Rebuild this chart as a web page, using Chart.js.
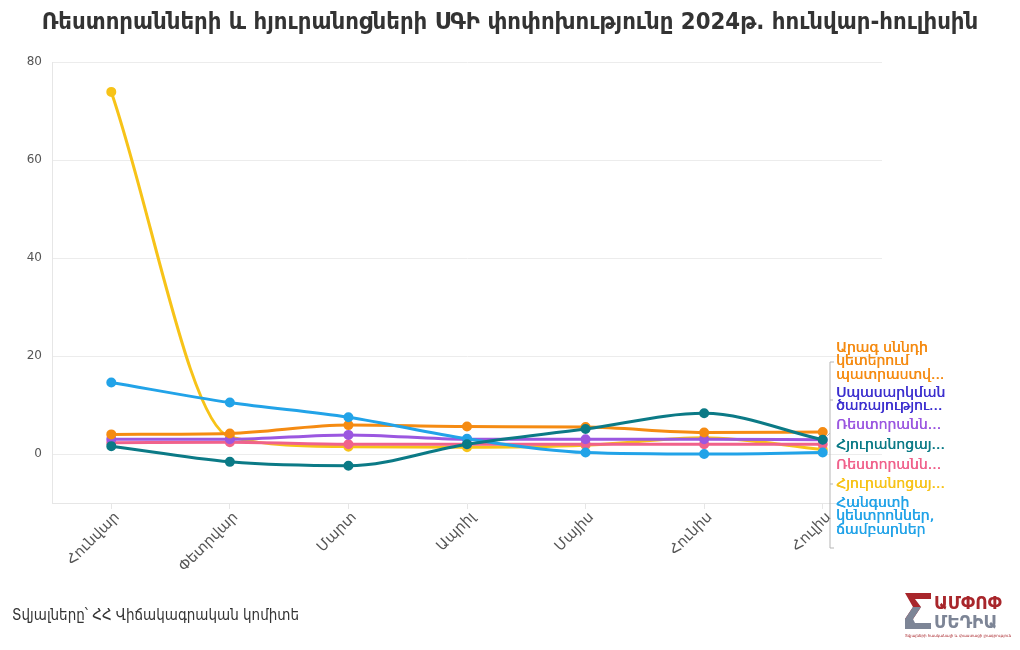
<!DOCTYPE html>
<html><head><meta charset="utf-8">
<script src="https://cdn.jsdelivr.net/npm/chart.js@4"></script>
<style>
html,body{margin:0;padding:0;background:#fff;width:1020px;height:650px;overflow:hidden;font-family:"DejaVu Sans","Noto Sans",sans-serif;}
#wrap{position:absolute;left:0;top:0;width:1020px;height:650px;}
#title{position:absolute;left:0;top:7px;width:1020px;text-align:center;font-family:"DejaVu Sans Condensed","DejaVu Sans",sans-serif;font-weight:bold;font-size:23.7px;color:#333;white-space:nowrap;}
#source{position:absolute;left:12px;top:606px;font-size:15px;color:#333;font-family:"DejaVu Sans Condensed","DejaVu Sans",sans-serif;}
#logo{position:absolute;left:903px;top:591px;width:110px;height:50px;}
</style></head>
<body>
<div id="wrap"><canvas id="c" width="1020" height="650"></canvas></div>
<div id="title">Ռեստորանների և հյուրանոցների ՍԳԻ փոփոխությունը 2024թ. հունվար-հուլիսին</div>
<div id="source">Տվյալները՝ ՀՀ Վիճակագրական կոմիտե</div>
<div id="logo">
<svg width="110" height="50" viewBox="0 0 110 50">
<polygon points="2,2 28,2 28,8 12,8 18,16 10,16" fill="#a8262b"/>
<polygon points="18,16 10,16 2,28 10,28" fill="#a8262b"/>
<polygon points="10,16 18,16 10,28 2,28" fill="#7d8596"/>
<polygon points="2,28 10,28 12,32 28,32 28,38 2,38" fill="#7d8596"/>
<text x="31" y="18" font-family="DejaVu Sans" font-weight="bold" font-size="17" fill="#a8262b">ԱՄՓՈՓ</text>
<text x="31" y="37" font-family="DejaVu Sans" font-weight="bold" font-size="17" fill="#7d8596">ՄԵԴԻԱ</text>
<text x="2" y="46" font-family="DejaVu Sans" font-size="4" fill="#a8262b">Տվյալների հասկանալի և փաստացի լրագրություն</text>
</svg>
</div>
<script>
const categories = ["Հունվար","Փետրվար","Մարտ","Ապրիլ","Մայիս","Հունիս","Հուլիս"];
const yTicks = [0,20,40,60,80];

const fastFood   = [4.0, 4.2, 5.9, 5.6, 5.5, 4.4, 4.5];
const services   = [null, null, null, null, null, null, null];
const restPurple = [3.0, 3.0, 3.9, 3.0, 3.0, 3.0, 2.9];
const hotelTeal  = [1.6, -1.6, -2.4, 2.0, 5.1, 8.3, 2.9];
const restPink   = [2.3, 2.4, 2.0, 2.0, 2.0, 2.0, 2.0];
const hotelYellow= [73.9, 3.5, 1.5, 1.4, 1.8, 3.3, 0.9];
const camps      = [14.6, 10.5, 7.5, 3.1, 0.3, 0.0, 0.3];

const labelLines = [
  ["Արագ սննդի","կետերում","պատրաստվ..."],
  ["Սպասարկման","ծառայությու..."],
  ["Ռեստորանն..."],
  ["Հյուրանոցայ..."],
  ["Ռեստորանն..."],
  ["Հյուրանոցայ..."],
  ["Հանգստի","կենտրոններ,","ճամբարներ"]
];
const colors = ["#f58b12","#3c2fcf","#9b57e0","#0b7a86","#f0628c","#f7c318","#22a3e8"];
const seriesData = [fastFood, services, restPurple, hotelTeal, restPink, hotelYellow, camps];
const labelY = [348, 393, 425, 445, 465, 484, 503];

const endLabels = {
  id:'endLabels',
  afterDraw(chart){
    const ctx = chart.ctx;
    const area = chart.chartArea;
    ctx.save();
    ctx.strokeStyle = '#b5b5b5';
    ctx.lineWidth = 1;
    const bx = area.right - 52;
    ctx.beginPath();
    ctx.moveTo(bx+4, 362); ctx.lineTo(bx, 362); ctx.lineTo(bx, 548); ctx.lineTo(bx+4, 548);
    ctx.moveTo(bx, 400); ctx.lineTo(bx+3, 400);
    ctx.moveTo(bx, 433); ctx.lineTo(bx-4, 437);
    ctx.moveTo(bx, 484); ctx.lineTo(bx+3, 484);
    ctx.stroke();
    ctx.font = '14px "DejaVu Sans","Noto Sans",sans-serif';
    ctx.textBaseline = 'middle';
    ctx.textAlign = 'left';
    labelLines.forEach((lines, i) => {
      ctx.fillStyle = colors[i];
      lines.forEach((t, j) => {
        ctx.fillText(t, area.right - 46, labelY[i] + j*13.5);
        ctx.fillText(t, area.right - 45.6, labelY[i] + j*13.5);
      });
    });
    ctx.restore();
  }
};

new Chart(document.getElementById('c'), {
  type:'line',
  data:{
    labels: categories,
    datasets: seriesData.map((d,i)=>({
      label: labelLines[i].join(' '),
      data: d,
      borderColor: colors[i],
      backgroundColor: colors[i],
      borderWidth: 3,
      pointRadius: 3.5,
      pointHoverRadius: 4,
      cubicInterpolationMode: 'monotone',
      order: i===3 ? 0 : (i===6 ? 1 : 2)
    }))
  },
  options:{
    responsive:false,
    animation:false,
    layout:{padding:{top:62,right:138,left:0,bottom:0}},
    plugins:{legend:{display:false},title:{display:false},tooltip:{enabled:false}},
    scales:{
      x:{
        offset:true,
        grid:{drawOnChartArea:false,drawTicks:true,tickLength:6,color:'#e6e6e6'},
        border:{display:true,color:'#e6e6e6'},
        ticks:{minRotation:45,maxRotation:45,color:'#555',font:{size:14.5,family:'"DejaVu Sans","Noto Sans",sans-serif'},padding:0,labelOffset:6},
        afterFit(s){ s.height = 147; }
      },
      y:{
        min:-10,max:80,
        afterBuildTicks(s){ s.ticks = yTicks.map(v=>({value:v})); },
        grid:{color:'#ececec',drawTicks:false},
        border:{display:true,color:'#e6e6e6'},
        ticks:{color:'#555',padding:10,font:{size:12,family:'"DejaVu Sans","Noto Sans",sans-serif'}},
        afterFit(s){ s.width = 52; }
      }
    }
  },
  plugins:[endLabels]
});
</script>
</body></html>
